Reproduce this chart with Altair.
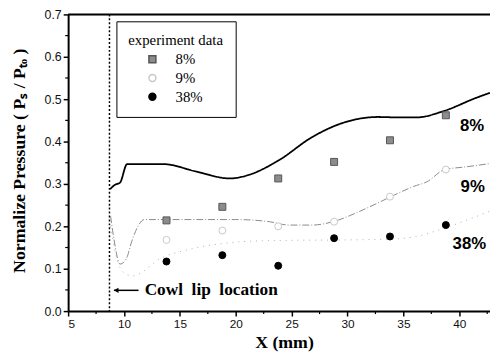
import altair as alt
import pandas as pd

# experiment data
x_exp = [13.8, 18.8, 23.8, 28.8, 33.8, 38.8]
p8 = [0.214, 0.246, 0.313, 0.352, 0.403, 0.462]
p9 = [0.168, 0.19, 0.20, 0.211, 0.27, 0.334]
p38 = [0.117, 0.132, 0.107, 0.172, 0.176, 0.203]
series = ["8%", "9%", "38%"]

# computed curves
x_l8 = [8.76, 9.2, 9.64, 10.28, 13.45, 16.5, 19.46, 21.0, 23.86, 26.8, 29.7, 32.7, 34.5, 36.2, 38.5, 41.5, 42.75]
y_l8 = [0.288, 0.298, 0.303, 0.347, 0.347, 0.329, 0.313, 0.32, 0.356, 0.41, 0.445, 0.458, 0.457, 0.457, 0.471, 0.503, 0.515]
x_l9 = [8.8, 9.1, 9.64, 10.2, 10.7, 11.25, 11.8, 15, 20, 23.0, 24.75, 26.8, 28.85, 30.8, 32.7, 34.2, 35.9, 37.1, 38.7, 40.5, 42.75]
y_l9 = [0.224, 0.17, 0.111, 0.123, 0.165, 0.2, 0.216, 0.216, 0.216, 0.211, 0.203, 0.203, 0.212, 0.232, 0.255, 0.274, 0.294, 0.305, 0.334, 0.34, 0.348]
x_l38 = [8.8, 9.3, 10.0, 10.8, 11.5, 13.0, 15.9, 19.0, 21.4, 25, 30, 34, 36.5, 38.0, 40.0, 42.75]
y_l38 = [0.2, 0.13, 0.09, 0.083, 0.09, 0.12, 0.146, 0.16, 0.165, 0.167, 0.168, 0.17, 0.178, 0.19, 0.208, 0.236]

# axes
x_ticks = [5, 10, 15, 20, 25, 30, 35, 40]
x_minor = [7.5, 12.5, 17.5, 22.5, 27.5, 32.5, 37.5, 42.5]
y_ticks = [0.0, 0.1, 0.2, 0.3, 0.4, 0.5, 0.6, 0.7]
y_minor = [0.05, 0.15, 0.25, 0.35, 0.45, 0.55, 0.65]

# annotations
cowl_x = 8.7
curve_labels = ["8%", "9%", "38%"]
curve_label_x = [41.15, 41.2, 40.9]
curve_label_y = [0.437, 0.293, 0.158]

W, H = 428, 301
X_DOMAIN = [5, 42.75]
Y_DOMAIN = [0, 0.7]

xs = alt.Scale(domain=X_DOMAIN, nice=False, zero=False)
ys = alt.Scale(domain=Y_DOMAIN, nice=False)

SERIF = "Liberation Serif"
SANS = "Liberation Sans"

pts = pd.DataFrame({
    "x": x_exp * 3,
    "y": p8 + p9 + p38,
    "series": ["8%"] * 6 + ["9%"] * 6 + ["38%"] * 6,
})

lines = pd.DataFrame({
    "x": x_l8 + x_l9 + x_l38,
    "y": y_l8 + y_l9 + y_l38,
    "series": ["8%"] * len(x_l8) + ["9%"] * len(x_l9) + ["38%"] * len(x_l38),
})

base_x = alt.X("x:Q", scale=xs, axis=alt.Axis(
    values=x_ticks, title="X (mm)", grid=False, tickSize=5, tickWidth=1.5,
    domainWidth=2, domainColor="black", tickColor="black",
    labelFont=SANS, labelFontSize=12, labelColor="#111", labelPadding=3,
    titleFont=SERIF, titleFontSize=18, titleFontWeight="bold", titleColor="black",
    titleX=219, titleY=32, titleBaseline="middle",
))
base_y = alt.Y("y:Q", scale=ys, axis=alt.Axis(
    values=y_ticks, format=".1f", title="Normalize Pressure ( P\u209b / P\u209c\u2092 )",
    grid=False, tickSize=5, tickWidth=1.5, domainWidth=2, domainColor="black",
    tickColor="black", labelFont=SANS, labelFontSize=12.5, labelColor="#111",
    labelPadding=2, titleFont=SERIF, titleFontSize=18, titleFontWeight="bold",
    titleColor="black", titleX=-49, titleY=148, titleBaseline="middle",
))

def line_layer(name, color, width, dash):
    d = lines[lines.series == name]
    return alt.Chart(d).mark_line(
        color=color, strokeWidth=width, strokeDash=dash, interpolate="monotone"
    ).encode(x=alt.X("x:Q", scale=xs), y=alt.Y("y:Q", scale=ys), order="x:Q")

l8 = line_layer("8%", "black", 1.8, [1, 0])
l9 = line_layer("9%", "#8a8a8a", 1.0, [7, 2, 1, 2])
l38 = line_layer("38%", "#b0b0b0", 1.0, [1, 5])

axes_layer = alt.Chart(lines).mark_point(opacity=0).encode(x=base_x, y=base_y)

legend = alt.Legend(
    title="experiment data", orient="none", legendX=49, legendY=7,
    strokeColor="black", fillColor="white", padding=12,
    titleFont=SERIF, titleFontSize=15, titleFontWeight="normal", titleColor="black",
    labelFont=SERIF, labelFontSize=15, labelColor="black",
    symbolOffset=17, labelOffset=16, rowPadding=3, titlePadding=4,
    labelExpr="length(datum.label) < 3 ? '\u2007' + datum.label : datum.label",
)

points = alt.Chart(pts).mark_point(filled=True, strokeWidth=1, opacity=1).encode(
    x=alt.X("x:Q", scale=xs),
    y=alt.Y("y:Q", scale=ys),
    shape=alt.Shape("series:N", scale=alt.Scale(domain=series, range=["square", "circle", "circle"]), legend=legend),
    fill=alt.Fill("series:N", scale=alt.Scale(domain=series, range=["#8c8c8c", "#ffffff", "#000000"]), legend=legend),
    stroke=alt.Stroke("series:N", scale=alt.Scale(domain=series, range=["#555555", "#c8c8c8", "#000000"]), legend=legend),
    size=alt.Size("series:N", scale=alt.Scale(domain=series, range=[50, 50, 125]), legend=legend),
)

cowl = alt.Chart(pd.DataFrame({"x": [cowl_x]})).mark_rule(
    color="black", strokeWidth=1.5, strokeDash=[2, 2]
).encode(x=alt.X("x:Q", scale=xs))

top_frame = alt.Chart(pd.DataFrame({"y": [Y_DOMAIN[1]]})).mark_rule(
    color="black", strokeWidth=2
).encode(y=alt.Y("y:Q", scale=ys), x=alt.value(0), x2=alt.value(W))

ymin = alt.Chart(pd.DataFrame({"y": y_minor})).mark_rule(color="black", strokeWidth=1.2).encode(
    y=alt.Y("y:Q", scale=ys), x=alt.value(-3), x2=alt.value(0))
xmin = alt.Chart(pd.DataFrame({"x": x_minor})).mark_rule(color="black", strokeWidth=1.2).encode(
    x=alt.X("x:Q", scale=xs), y=alt.value(H), y2=alt.value(H + 3))

curve_txt = alt.Chart(pd.DataFrame({"x": curve_label_x, "y": curve_label_y, "t": curve_labels})).mark_text(
    font=SANS, fontSize=17, fontWeight="bold", color="black", align="center", baseline="middle"
).encode(x=alt.X("x:Q", scale=xs), y=alt.Y("y:Q", scale=ys), text="t:N")

arrow = alt.Chart(pd.DataFrame({"x": [9.1], "x2": [11.3], "y": [0.049]})).mark_rule(
    color="black", strokeWidth=1.5
).encode(x=alt.X("x:Q", scale=xs), x2="x2:Q", y=alt.Y("y:Q", scale=ys))
arrow_head = alt.Chart(pd.DataFrame({"x": [9.3], "y": [0.049]})).mark_point(
    shape="triangle-left", filled=True, color="black", size=30, opacity=1
).encode(x=alt.X("x:Q", scale=xs), y=alt.Y("y:Q", scale=ys))
cowl_txt = alt.Chart(pd.DataFrame({"x": [11.85], "y": [0.049], "t": ["Cowl\u00a0\u00a0lip\u00a0\u00a0location"]})).mark_text(
    font=SERIF, fontSize=17.5, fontWeight="bold", color="black", align="left", baseline="middle"
).encode(x=alt.X("x:Q", scale=xs), y=alt.Y("y:Q", scale=ys), text="t:N")

chart = alt.layer(
    axes_layer, cowl, l38, l9, l8, points, ymin, xmin, top_frame, curve_txt, arrow, arrow_head, cowl_txt
).properties(
    width=W, height=H, autosize="none",
    padding={"left": 61, "top": 4, "right": 0, "bottom": 40},
).configure_view(stroke=None).configure(background="white")

chart.save("out.html", embed_options={"renderer": "svg", "actions": False})
